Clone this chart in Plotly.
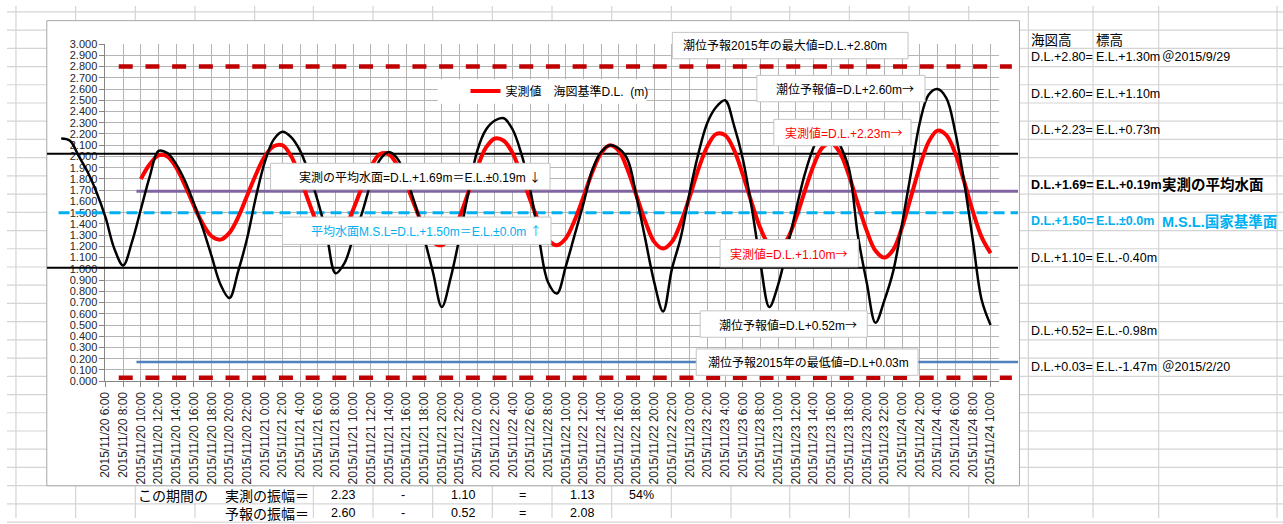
import datetime as dt
import plotly.graph_objects as go

W, H = 1283, 524

# ---------------- data ----------------
# Observed tide level (D.L. basis, m), hourly from 2015/11/20 10:00
ACTUAL_HOURS = list(range(4, 101))
ACTUAL_DL = [
    1.80, 1.93, 2.01, 2.00, 1.90, 1.74, 1.56, 1.40, 1.29, 1.26,
    1.32, 1.46, 1.65, 1.84, 2.00, 2.09, 2.10, 2.00, 1.81, 1.59,
    1.39, 1.27, 1.26, 1.35, 1.53, 1.73, 1.91, 2.02, 2.02, 1.92,
    1.75, 1.55, 1.36, 1.24, 1.21, 1.29, 1.46, 1.68, 1.90, 2.08,
    2.16, 2.14, 2.03, 1.83, 1.61, 1.41, 1.26, 1.21, 1.27, 1.43,
    1.64, 1.86, 2.03, 2.10, 2.05, 1.88, 1.65, 1.42, 1.24, 1.18,
    1.24, 1.41, 1.64, 1.89, 2.09, 2.20, 2.19, 2.06, 1.84, 1.59,
    1.36, 1.21, 1.17, 1.26, 1.45, 1.69, 1.92, 2.08, 2.12, 2.03,
    1.83, 1.58, 1.34, 1.16, 1.10, 1.17, 1.37, 1.64, 1.91, 2.13,
    2.23, 2.19, 2.03, 1.78, 1.51, 1.28, 1.14,
]

# Tide forecast (D.L. basis, m), hourly from 2015/11/20 1:00
FORECAST_HOURS = list(range(-5, 101))
FORECAST_DL = [
    2.16, 2.14, 2.00, 1.86, 1.68, 1.46, 1.18, 1.03, 1.24, 1.53,
    1.82, 2.05, 2.03, 1.93, 1.78, 1.58, 1.36, 1.11, 0.86, 0.74,
    0.98, 1.27, 1.64, 1.95, 2.15, 2.22, 2.17, 2.05, 1.85, 1.60,
    1.30, 0.96, 1.05, 1.28, 1.50, 1.77, 1.97, 2.04, 1.98, 1.80,
    1.57, 1.28, 0.97, 0.66, 0.92, 1.28, 1.68, 2.05, 2.24, 2.32,
    2.34, 2.24, 2.02, 1.70, 1.26, 0.88, 0.78, 1.02, 1.30, 1.58,
    1.88, 2.04, 2.10, 2.07, 1.97, 1.64, 1.26, 0.88, 0.62, 1.00,
    1.28, 1.68, 2.03, 2.30, 2.44, 2.50, 2.28, 1.98, 1.55, 1.05,
    0.66, 0.86, 1.18, 1.52, 1.84, 2.08, 2.22, 2.24, 2.10, 1.89,
    1.30, 0.88, 0.52, 0.72, 0.98, 1.40, 1.85, 2.30, 2.55, 2.60,
    2.52, 2.22, 1.78, 1.25, 0.72, 0.50,
]

# category labels every two hours
START = dt.datetime(2015, 11, 20, 6, 0)
TICK_HOURS = list(range(0, 101, 2))
TICK_LABELS = [
    "{0.year}/{0.month}/{0.day} {0.hour}:{0.minute:02d}".format(START + dt.timedelta(hours=h))
    for h in TICK_HOURS
]

# reference levels (D.L., m)
FORECAST_MAX_2015 = 2.80
FORECAST_MIN_2015 = 0.03
FORECAST_HIGH = 2.60
FORECAST_LOW = 0.52
OBS_MEAN_LEVEL = 1.69
MSL_LEVEL = 1.50
UPPER_GUIDE = 2.025
LOWER_GUIDE = 1.01
BOTTOM_GUIDE = 0.17

ACTUAL_HIGH = max(ACTUAL_DL)
ACTUAL_LOW = min(ACTUAL_DL)

# side table: (row, D.L., E.L., note, style)
SIDE_ROWS = [
    (2, "D.L.+2.80=", "E.L.+1.30m", "＠2015/9/29", "plain"),
    (4, "D.L.+2.60=", "E.L.+1.10m", "", "plain"),
    (6, "D.L.+2.23=", "E.L.+0.73m", "", "plain"),
    (9, "D.L.+1.69=", "E.L.+0.19m", "実測の平均水面", "bold"),
    (11, "D.L.+1.50=", "E.L.±0.0m", "M.S.L.国家基準面", "blue"),
    (13, "D.L.+1.10=", "E.L.-0.40m", "", "plain"),
    (17, "D.L.+0.52=", "E.L.-0.98m", "", "plain"),
    (19, "D.L.+0.03=", "E.L.-1.47m", "＠2015/2/20", "plain"),
]

# ---------------- geometry ----------------
X0_PX, PX_PER_H = 99.0, 8.9      # pixel of hour 0 and pixels per hour
Y0_PX, Y3_PX = 384.0, 39.0       # pixels of 0.000 and 3.000
MAIN_END_H = 101
WIDE_PX = (0.0, 1020.0)
ROW0_PX, ROW_H = 6.0, 18.65
COLS_PX = [9, 69, 129, 189, 249, 308, 368, 428, 488, 548, 608, 668, 728,
           787, 847, 907, 967, 1027, 1092, 1158, 1277]
FRAME = (40, 15, 1018, 491)

# horizontal spans (hours) of the drawn guide lines
FRAME_SPAN = (-6.6, 103.1)
DASH_SPAN = (1.5, 102.4)
SERIES_SPAN = (3.5, 103.1)
MSL_SPAN = (-5.3, 103.1)

FONT = "Liberation Sans, Noto Sans CJK JP, sans-serif"
CJK = "Noto Sans CJK JP, sans-serif"


def fx(px):
    return px / W


def fy(py):
    return 1 - py / H


def row_mid(r):
    return ROW0_PX + ROW_H * (r + 0.5)


def cjk_sym(s):
    return f"<span style='font-family:{CJK}'>{s}</span>"


fig = go.Figure()


def guide(level, span, color, width, dash=None):
    fig.add_trace(go.Scatter(
        x=list(span), y=[level, level], mode="lines",
        line=dict(color=color, width=width, dash=dash),
        xaxis="x2", yaxis="y2", showlegend=False, hoverinfo="skip"))


guide(BOTTOM_GUIDE, SERIES_SPAN, "#4f81bd", 2.5)
guide(FORECAST_MAX_2015, DASH_SPAN, "#c00000", 4.5, "14px,12.7px")
guide(FORECAST_MIN_2015, DASH_SPAN, "#c00000", 4.5, "14px,12.7px")
guide(UPPER_GUIDE, FRAME_SPAN, "#000000", 2)
guide(LOWER_GUIDE, FRAME_SPAN, "#000000", 2)
guide(OBS_MEAN_LEVEL, SERIES_SPAN, "#8064a2", 3)
guide(MSL_LEVEL, MSL_SPAN, "#00b0f0", 3, "11px,6px")

fig.add_trace(go.Scatter(
    x=ACTUAL_HOURS, y=ACTUAL_DL, mode="lines",
    name="実測値　海図基準D.L.  (m)",
    line=dict(color="#ff0000", width=4, shape="spline"),
    xaxis="x2", yaxis="y2", showlegend=True))

fig.add_trace(go.Scatter(
    x=FORECAST_HOURS, y=FORECAST_DL, mode="lines",
    line=dict(color="#000000", width=2.5, shape="spline"),
    xaxis="x2", yaxis="y2", showlegend=False))

# invisible anchor trace for the main category axis
fig.add_trace(go.Scatter(x=[0, MAIN_END_H], y=[0, 3], mode="markers",
                         marker=dict(opacity=0), showlegend=False,
                         hoverinfo="skip"))

# ---------------- sheet background ----------------
shapes = []
for k in range(29):
    y = ROW0_PX + ROW_H * k
    shapes.append(dict(type="line", xref="paper", yref="paper",
                       x0=0, x1=1, y0=fy(y), y1=fy(y),
                       line=dict(color="#d4d4d4", width=1.2), layer="below"))
for c in COLS_PX:
    shapes.append(dict(type="line", xref="paper", yref="paper",
                       x0=fx(c), x1=fx(c), y0=0, y1=1,
                       line=dict(color="#d4d4d4", width=1.2), layer="below"))
# cells whose text runs over the neighbouring cells
for (a, b, r) in [(130, 307, 26), (190, 307, 27)]:
    shapes.append(dict(type="rect", xref="paper", yref="paper",
                       x0=fx(a), x1=fx(b),
                       y0=fy(ROW0_PX + ROW_H * r + 1), y1=fy(ROW0_PX + ROW_H * (r + 1) - 1),
                       fillcolor="white", line=dict(width=0), layer="below"))
# chart frame
shapes.append(dict(type="rect", xref="paper", yref="paper",
                   x0=fx(FRAME[0]), x1=fx(FRAME[2]), y0=fy(FRAME[3]), y1=fy(FRAME[1]),
                   fillcolor="white", line=dict(color="#a6a6a6", width=1), layer="below"))

# legend backing
shapes.append(dict(type="rect", xref="paper", yref="paper",
                   x0=fx(433), x1=fx(643), y0=fy(100), y1=fy(75),
                   fillcolor="white", line=dict(width=0), layer="above"))

# ---------------- text boxes ----------------
ARROW_R, ARROW_D, ARROW_U = cjk_sym("→"), cjk_sym("↓"), cjk_sym("↑")
BOXES = [
    ((669, 27, 906, 54), f"潮位予報2015年の最大値=D.L.+{FORECAST_MAX_2015:.2f}m", "left", 678, "#000000"),
    ((754, 71, 923, 98), f"潮位予報値=D.L+{FORECAST_HIGH:.2f}m{ARROW_R}", "right", 914, "#000000"),
    ((771, 116, 909, 143), f"実測値=D.L.+{ACTUAL_HIGH:.2f}m{ARROW_R}", "right", 902, "#ff0000"),
    ((717, 239, 856, 267), f"実測値=D.L.+{ACTUAL_LOW:.2f}m{ARROW_R}", "right", 847, "#ff0000"),
    ((697, 312, 865, 339), f"潮位予報値=D.L+{FORECAST_LOW:.2f}m{ARROW_R}", "right", 857, "#000000"),
    ((693, 351, 916, 378), f"潮位予報2015年の最低値=D.L+{FORECAST_MIN_2015:.2f}m", "left", 703, "#000000"),
    ((265, 161, 546, 188), f"実測の平均水面=D.L.+{OBS_MEAN_LEVEL:.2f}m＝E.L.±{OBS_MEAN_LEVEL - MSL_LEVEL:.2f}m {ARROW_D}", "right", 539, "#000000"),
    ((277, 216, 547, 244), f"平均水面M.S.L=D.L.+{MSL_LEVEL:.2f}m＝E.L.±0.0m {ARROW_U}", "right", 540, "#00b0f0"),
]

annotations = []
for (x0, y0, x1, y1), text, side, tx, color in BOXES:
    shapes.append(dict(type="rect", xref="paper", yref="paper",
                       x0=fx(x0), x1=fx(x1), y0=fy(y1), y1=fy(y0),
                       fillcolor="white", line=dict(color="#c4c4c4", width=1),
                       layer="above"))
    annotations.append(dict(xref="paper", yref="paper", x=fx(tx), y=fy((y0 + y1) / 2),
                            xanchor=side, yanchor="middle", showarrow=False,
                            text=text, font=dict(family=FONT, size=12, color=color)))


# ---------------- side table ----------------
def cell(text, x, r, anchor="left", size=12.5, color="#000000", family=FONT):
    annotations.append(dict(xref="paper", yref="paper", x=fx(x), y=fy(row_mid(r)),
                            xanchor=anchor, yanchor="middle", showarrow=False,
                            text=text, font=dict(family=family, size=size, color=color)))


cell("海図高", 1028, 1, size=13.5, family=CJK)
cell("標高", 1093, 1, size=13.5, family=CJK)
for r, dl, el, note, style in SIDE_ROWS:
    color = "#00b0f0" if style == "blue" else "#000000"
    if style == "plain":
        cell(dl, 1028, r, color=color)
        cell(el, 1093, r, color=color)
        if note:
            cell(note, 1159, r, color=color)
    else:
        cell(f"<b>{dl}</b>", 1028, r, color=color)
        cell(f"<b>{el}</b>", 1093, r, color=color)
        cell(f"<b>{note}</b>", 1159, r, size=14.5, color=color)

# ---------------- amplitude table ----------------
obs_amp = ACTUAL_HIGH - ACTUAL_LOW
fc_amp = FORECAST_HIGH - FORECAST_LOW
AMP_ROWS = [
    (26, "実測の振幅＝", ACTUAL_HIGH, ACTUAL_LOW, obs_amp, f"{obs_amp / fc_amp:.0%}"),
    (27, "予報の振幅＝", FORECAST_HIGH, FORECAST_LOW, fc_amp, ""),
]
cell("この期間の", 130, 26, size=14, family=CJK)
for r, label, hi, lo, amp, ratio in AMP_ROWS:
    cell(label, 306, r, anchor="right", size=14, family=CJK)
    cell(f"{hi:.2f}", 338, r, anchor="center", size=12.5)
    cell("-", 398, r, anchor="center", size=12.5)
    cell(f"{lo:.2f}", 458, r, anchor="center", size=12.5)
    cell("=", 518, r, anchor="center", size=12.5)
    cell(f"{amp:.2f}", 578, r, anchor="center", size=12.5)
    if ratio:
        cell(ratio, 638, r, anchor="center", size=12.5)

# ---------------- layout ----------------
main_dom_x = [fx(X0_PX), fx(X0_PX + MAIN_END_H * PX_PER_H)]
dom_y = [fy(Y0_PX), fy(Y3_PX)]
wide_range = [(WIDE_PX[0] - X0_PX) / PX_PER_H, (WIDE_PX[1] - X0_PX) / PX_PER_H]

fig.update_layout(
    width=W, height=H,
    margin=dict(l=0, r=0, t=0, b=0),
    paper_bgcolor="white", plot_bgcolor="rgba(0,0,0,0)",
    hovermode=False,
    font=dict(family=FONT, size=12, color="#262626"),
    xaxis=dict(domain=main_dom_x, range=[0, MAIN_END_H], tickmode="array",
               tickvals=TICK_HOURS, ticktext=TICK_LABELS, tickangle=-90,
               showgrid=True, gridcolor="#b4b4b4", gridwidth=1,
               showline=True, linecolor="#868686", linewidth=1,
               ticks="outside", ticklen=5, tickcolor="#868686",
               tickfont=dict(size=12, color="#262626"), zeroline=False,
               anchor="y", fixedrange=True),
    yaxis=dict(domain=dom_y, range=[0, 3], tick0=0, dtick=0.1, tickformat=".3f",
               showgrid=True, gridcolor="#b4b4b4", gridwidth=1,
               showline=True, linecolor="#868686", linewidth=1,
               ticks="outside", ticklen=5, tickcolor="#868686",
               tickfont=dict(size=11, color="#262626"), zeroline=False,
               anchor="x", fixedrange=True),
    xaxis2=dict(domain=[fx(WIDE_PX[0]), fx(WIDE_PX[1])], range=wide_range,
                visible=False, anchor="y2", fixedrange=True),
    yaxis2=dict(domain=dom_y, range=[0, 3], visible=False, anchor="x2",
                fixedrange=True),
    showlegend=True,
    legend=dict(x=fx(461), y=fy(87), xanchor="left", yanchor="middle",
                bgcolor="rgba(0,0,0,0)", borderwidth=0,
                font=dict(family=FONT, size=12, color="#000000")),
    shapes=shapes,
    annotations=annotations,
)

fig.write_html("out.html")
